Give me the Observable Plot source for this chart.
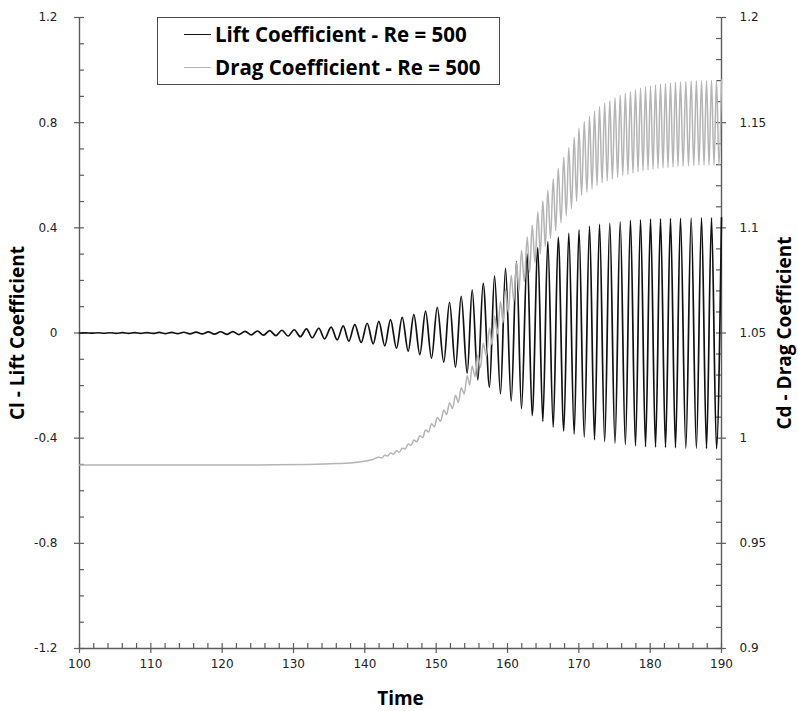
<!DOCTYPE html>
<html>
<head>
<meta charset="utf-8">
<script src="https://cdn.jsdelivr.net/npm/d3@7"></script>
<script src="https://cdn.jsdelivr.net/npm/@observablehq/plot@0.6"></script>
<style>
  body { margin: 0; background: #fff; }
  #chart { position: relative; width: 798px; height: 711px; }
  .legend {
    position: absolute; left: 157px; top: 17px; width: 343px; height: 68px;
    box-sizing: border-box; border: 1px solid #4a4a4a; background: #fff;
    font: bold 20.5px "Open Sans", Lato, sans-serif; color: #000;
  }
  .legend .row { position: absolute; left: 26px; display: flex; align-items: center; height: 22px; white-space: nowrap; }
  .legend .swatch { width: 27px; height: 0; margin-right: 4px; }
</style>
</head>
<body>
<div id="chart"></div>
<script>
// Time history of the lift coefficient: alternating maxima and minima of the signal
const liftTime = [100.00,100.86,101.72,102.58,103.44,104.30,105.16,106.02,106.88,107.74,108.60,109.46,110.32,111.18,112.04,112.90,113.76,114.62,115.48,116.34,117.20,118.06,118.92,119.78,120.64,121.50,122.36,123.22,124.08,124.94,125.80,126.66,127.52,128.38,129.24,130.10,130.96,
  131.82,132.62,133.55,134.35,135.28,136.13,136.97,137.75,138.59,139.49,
  140.33,141.17,141.96,142.80,143.60,144.44,145.24,146.08,146.87,147.71,
  148.51,149.35,150.15,151.07,151.87,152.71,153.51,154.35,155.05,155.84,
  156.59,157.48,158.18,159.02,159.72,160.52,161.26,161.96,162.76,163.46,
  164.25,164.95,165.65,166.41,167.11,167.89,168.59,169.35,170.02,170.76,
  171.50,172.20,172.90,173.62,174.34,175.07,175.80,176.52,177.24,177.94,
  178.65,179.35,180.05,180.75,181.45,182.15,182.85,183.55,184.25,185.00,
  185.75,186.48,187.20,187.90,188.60,189.30,190.00];
const liftCl = [0,0.0008,-0.0008,0.0009,-0.0009,0.0010,-0.0011,0.0012,-0.0013,0.0014,-0.0015,0.0017,-0.0018,0.0020,-0.0022,0.0024,-0.0026,0.0029,-0.0031,0.0034,-0.0037,0.0040,-0.0044,0.0047,-0.0051,0.0055,-0.0060,0.0065,-0.0071,0.0077,-0.0083,0.0090,-0.0097,0.0105,-0.0114,0.0124,-0.0140,
  0.016,-0.018,0.018,-0.022,0.022,-0.026,0.027,-0.031,0.032,-0.036,
  0.037,-0.041,0.044,-0.049,0.051,-0.058,0.060,-0.069,0.070,-0.082,
  0.083,-0.096,0.098,-0.111,0.117,-0.130,0.139,-0.153,0.164,-0.178,
  0.189,-0.206,0.217,-0.231,0.246,-0.259,0.272,-0.288,0.301,-0.314,
  0.324,-0.336,0.348,-0.358,0.364,-0.373,0.379,-0.385,0.392,-0.396,
  0.406,-0.406,0.413,-0.413,0.417,-0.419,0.423,-0.424,0.428,-0.429,
  0.430,-0.432,0.433,-0.434,0.434,-0.435,0.435,-0.436,0.436,-0.438,
  0.437,-0.438,0.438,-0.439,0.438,-0.440,0.438];

// Time history of the drag coefficient (oscillates at twice the lift frequency)
const dragTime = [100,115,125,132,136,139,141,
  141.96,142.38,142.80,143.20,143.60,144.02,144.44,144.84,145.24,145.66,
  146.08,146.48,146.87,147.29,147.71,148.11,148.51,148.93,149.35,149.75,
  150.15,150.61,151.07,151.47,151.87,152.29,152.71,153.11,153.51,153.93,
  154.35,154.70,155.05,155.45,155.84,156.22,156.59,157.04,157.48,157.83,
  158.18,158.60,159.02,159.37,159.72,160.12,160.52,160.89,161.26,161.61,
  161.96,162.36,162.76,163.11,163.46,163.86,164.25,164.60,164.95,165.30,
  165.65,166.03,166.41,166.76,167.11,167.50,167.89,168.24,168.59,168.97,
  169.35,169.69,170.02,170.39,170.76,171.13,171.50,171.85,172.20,172.55,
  172.90,173.26,173.62,173.98,174.34,174.70,175.07,175.44,175.80,176.16,
  176.52,176.88,177.24,177.59,177.94,178.30,178.65,179.00,179.35,179.70,
  180.05,180.40,180.75,181.10,181.45,181.80,182.15,182.50,182.85,183.20,
  183.55,183.90,184.25,184.62,185.00,185.37,185.75,186.11,186.48,186.84,
  187.20,187.55,187.90,188.25,188.60,188.95,189.30,189.65,190.00];
const dragCd = [0.9872,0.9872,0.9873,0.9875,0.9879,0.9886,0.9897,
  0.9909,0.9906,0.9919,0.9915,0.9929,0.9924,0.9940,0.9933,0.9952,0.9949,
  0.9972,0.9966,0.9991,0.9983,1.0011,1.0003,1.0039,1.0029,1.0069,1.0054,
  1.0098,1.0081,1.0134,1.0112,1.0168,1.0141,1.0204,1.0170,1.0240,1.0210,
  1.0297,1.0253,1.0343,1.0293,1.0396,1.0336,1.0451,1.0391,1.0524,1.0445,
  1.0581,1.0497,1.0650,1.0549,1.0708,1.0599,1.0775,1.0650,1.0836,1.0698,
  1.0894,1.0744,1.0957,1.0788,1.1013,1.0832,1.1076,1.0876,1.1128,1.0911,
  1.1179,1.0949,1.1233,1.0987,1.1283,1.1024,1.1336,1.1058,1.1381,1.1092,
  1.1431,1.1126,1.1474,1.1155,1.1506,1.1170,1.1530,1.1185,1.1554,1.1200,
  1.1577,1.1214,1.1592,1.1223,1.1605,1.1232,1.1618,1.1241,1.1631,1.1249,
  1.1640,1.1255,1.1648,1.1261,1.1656,1.1267,1.1665,1.1272,1.1670,1.1275,
  1.1674,1.1279,1.1679,1.1283,1.1684,1.1285,1.1686,1.1287,1.1689,1.1289,
  1.1692,1.1292,1.1695,1.1293,1.1696,1.1294,1.1698,1.1296,1.1699,1.1297,
  1.1700,1.1297,1.1701,1.1298,1.1702,1.1298,1.1702,1.1299,1.1703];

// Axes
const timeDomain = [100, 190];
const clDomain = [-1.2, 1.2];
const cdDomain = [0.9, 1.2];
const timeTicks = [100, 110, 120, 130, 140, 150, 160, 170, 180, 190];
const clTicks = [-1.2, -0.8, -0.4, 0, 0.4, 0.8, 1.2];
const cdTicks = [0.9, 0.95, 1, 1.05, 1.1, 1.15, 1.2];
const timeMinor = d3.range(100, 190.01, 2).filter(t => t % 10 !== 0);
const clMinor = d3.range(-12, 12.01, 1).filter(k => k % 4 !== 0).map(k => k / 10);
const cdMinor = d3.range(90, 120.01, 1).filter(k => k % 5 !== 0).map(k => k / 100);

const series = ["Lift Coefficient - Re = 500", "Drag Coefficient - Re = 500"];
const colors = ["#111111", "#b4b4b4"];

// The drag axis (right) shares the vertical extent of the lift axis (left)
const cdToCl = cd => clDomain[0] + (cd - cdDomain[0]) * (clDomain[1] - clDomain[0]) / (cdDomain[1] - cdDomain[0]);
const clToCd = v => cdDomain[0] + (v - clDomain[0]) * (cdDomain[1] - cdDomain[0]) / (clDomain[1] - clDomain[0]);
const fmt = v => String(+(+v).toFixed(2));

const lift = liftTime.map((t, i) => ({t, v: liftCl[i]}));
const drag = dragTime.map((t, i) => ({t, v: cdToCl(dragCd[i])}));

// Frame geometry
const W = 798, H = 711;
const M = {top: 17, right: 77, bottom: 63, left: 79};
const frameW = W - M.left - M.right;
const frameH = H - M.top - M.bottom;
const tickLen = 5;

const axisColor = "#5c5c5c";
const tickStyle = {stroke: axisColor, strokeWidth: 1.2};
const labelFont = "'Open Sans', Lato, sans-serif";
const titleStyle = {fontWeight: "bold", fontFamily: labelFont, fill: "#000", textAnchor: "middle", lineAnchor: "middle"};

const chart = Plot.plot({
  width: W,
  height: H,
  marginLeft: M.left,
  marginRight: M.right,
  marginTop: M.top,
  marginBottom: M.bottom,
  x: {domain: timeDomain},
  y: {domain: clDomain},
  style: {fontFamily: "'DejaVu Sans', sans-serif", fontSize: "12px", background: "#fff", color: "#222"},
  marks: [
    // tick labels
    Plot.axisX({ticks: timeTicks, tickSize: 0, tickPadding: 11, tickFormat: d => String(d), label: null, fill: "#222"}),
    Plot.axisY({ticks: clTicks, anchor: "left", tickSize: 0, tickPadding: 22, tickFormat: fmt, label: null, fill: "#222"}),
    Plot.axisY({ticks: cdTicks.map(cdToCl), anchor: "right", tickSize: 0, tickPadding: 18, tickFormat: v => fmt(clToCd(v)), label: null, fill: "#222"}),
    // bottom ticks: majors cross the axis, minors point inward
    Plot.ruleX(timeTicks, {...tickStyle, insetTop: frameH - tickLen, insetBottom: -tickLen}),
    Plot.ruleX(timeMinor, {...tickStyle, insetTop: frameH - tickLen}),
    // left ticks
    Plot.ruleY(clTicks, {...tickStyle, insetLeft: -tickLen, insetRight: frameW - tickLen}),
    Plot.ruleY(clMinor, {...tickStyle, insetRight: frameW - tickLen}),
    // right ticks
    Plot.ruleY(cdTicks.map(cdToCl), {...tickStyle, insetLeft: frameW - tickLen, insetRight: -tickLen}),
    Plot.ruleY(cdMinor.map(cdToCl), {...tickStyle, insetLeft: frameW - tickLen}),
    // axis lines
    Plot.ruleX(timeDomain, {stroke: axisColor, strokeWidth: 1.4}),
    Plot.ruleY([clDomain[0]], {stroke: axisColor, strokeWidth: 1.4}),
    // series
    Plot.line(lift, {x: "t", y: "v", curve: "monotone-x", stroke: colors[0], strokeWidth: 1.7}),
    Plot.line(drag, {x: "t", y: "v", curve: "monotone-x", stroke: colors[1], strokeWidth: 1.5}),
    // axis titles
    Plot.text(["Cl - Lift Coefficient"], {...titleStyle, fontSize: 19, frameAnchor: "left", dx: -62, rotate: -90}),
    Plot.text(["Cd - Drag Coefficient"], {...titleStyle, fontSize: 19, frameAnchor: "right", dx: 63, rotate: -90}),
    Plot.text(["Time"], {...titleStyle, fontSize: 19, frameAnchor: "bottom", dy: 50})
  ]
});

const host = document.getElementById("chart");
host.appendChild(chart);

// Legend box drawn over the top-left part of the plot area
const legend = document.createElement("div");
legend.className = "legend";
series.forEach((name, i) => {
  const row = document.createElement("div");
  row.className = "row";
  row.style.top = (i === 0 ? 5 : 38) + "px";
  const sw = document.createElement("span");
  sw.className = "swatch";
  sw.style.borderTop = `1.5px solid ${colors[i]}`;
  const label = document.createElement("span");
  label.textContent = name;
  row.appendChild(sw);
  row.appendChild(label);
  legend.appendChild(row);
});
host.appendChild(legend);
</script>
</body>
</html>
